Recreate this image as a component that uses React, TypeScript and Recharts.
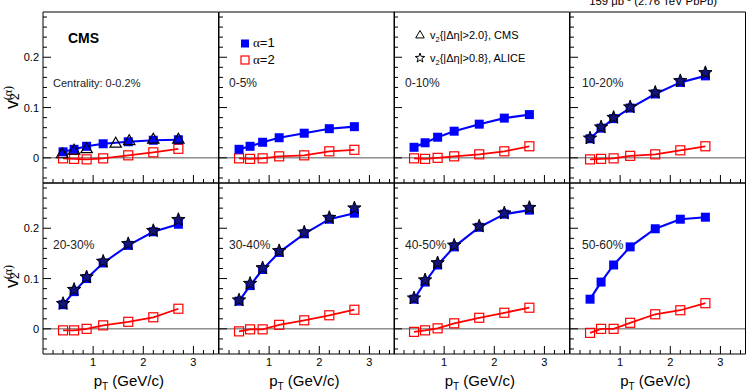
import React from 'react';
import { ComposedChart, Line, Scatter, XAxis, YAxis, ReferenceLine } from 'recharts';

// pT bin centres (GeV/c)
const PT = [0.4, 0.62, 0.87, 1.2, 1.7, 2.2, 2.7];

const CENTRALITY = ['Centrality: 0-0.2%', '0-5%', '0-10%', '10-20%', '20-30%', '30-40%', '40-50%', '50-60%'];

// v2^(alpha=1), one row per centrality class
const V2_ALPHA1 = [
  [0.012, 0.017, 0.023, 0.028, 0.032, 0.035, 0.036],
  [0.017, 0.023, 0.031, 0.040, 0.049, 0.058, 0.062],
  [0.021, 0.030, 0.041, 0.053, 0.067, 0.079, 0.086],
  [0.038, 0.059, 0.078, 0.099, 0.127, 0.150, 0.163],
  [0.048, 0.074, 0.100, 0.131, 0.166, 0.193, 0.208],
  [0.055, 0.086, 0.118, 0.152, 0.189, 0.218, 0.230],
  [0.059, 0.093, 0.127, 0.163, 0.202, 0.228, 0.236],
  [0.059, 0.093, 0.127, 0.163, 0.199, 0.218, 0.222],
];

// v2^(alpha=2)
const V2_ALPHA2 = [
  [-0.001, -0.002, -0.003, -0.001, 0.005, 0.011, 0.018],
  [-0.001, -0.002, -0.001, 0.003, 0.005, 0.013, 0.016],
  [-0.001, -0.002, 0.000, 0.003, 0.007, 0.013, 0.023],
  [-0.003, -0.002, -0.001, 0.004, 0.007, 0.015, 0.023],
  [-0.003, -0.003, 0.000, 0.007, 0.014, 0.023, 0.040],
  [-0.005, -0.001, -0.001, 0.008, 0.017, 0.027, 0.038],
  [-0.006, -0.003, 0.001, 0.011, 0.022, 0.032, 0.042],
  [-0.008, 0.000, 0.000, 0.012, 0.029, 0.037, 0.051],
];

// ALICE v2{|deta|>0.8}, panels 10-20% .. 40-50%
const ALICE_PANELS = [3, 4, 5, 6];
const ALICE_V2 = [
  [0.039, 0.061, 0.080, 0.101, 0.130, 0.153, 0.169],
  [0.050, 0.078, 0.103, 0.134, 0.169, 0.195, 0.217],
  [0.057, 0.090, 0.121, 0.155, 0.192, 0.221, 0.240],
  [0.061, 0.097, 0.131, 0.166, 0.204, 0.230, 0.241],
];

// CMS v2{|deta|>2.0}, 0-0.2% only
const CMS_PT = [0.38, 0.62, 0.87, 1.45, 1.72, 2.2, 2.7];
const CMS_V2 = [0.008, 0.015, 0.018, 0.029, 0.034, 0.037, 0.037];

const X_MAJOR = [1, 2, 3];
const Y_MAJOR = [0, 0.1, 0.2];
const X_TICKS = Array.from({ length: 17 }, (_, i) => Math.round((i + 1) * 2) / 10);
const Y_TICKS = Array.from({ length: 17 }, (_, i) => Math.round((i - 2) * 2) / 100);

const X_DOMAIN = [0, 3.5];
const Y_DOMAIN = [-0.05, 0.29];

const LEFT = 43;
const TOP = 12;
const PW = 175.5;
const PH = 171;
const FONT = "'Liberation Sans', Arial, Helvetica, sans-serif";

const starPath = (cx: number, cy: number, R: number, r: number) => {
  let d = '';
  for (let k = 0; k < 10; k++) {
    const a = -Math.PI / 2 + (k * Math.PI) / 5;
    const rad = k % 2 ? r : R;
    d += (k ? 'L' : 'M') + (cx + rad * Math.cos(a)).toFixed(2) + ',' + (cy + rad * Math.sin(a)).toFixed(2);
  }
  return d + 'Z';
};

const triPath = (cx: number, cy: number, s: number) =>
  `M${cx},${cy - s}L${cx + s * 0.95},${cy + s * 0.65}L${cx - s * 0.95},${cy + s * 0.65}Z`;

const StarShape = (p: any) => (
  <path d={starPath(p.cx, p.cy, 7, 2.9)} fill="#14147a" stroke="#000" strokeWidth={1} />
);
const TriShape = (p: any) => (
  <path d={triPath(p.cx, p.cy, 6)} fill="none" stroke="#000" strokeWidth={1.2} />
);
const BlueSquare = (p: any) => (
  <rect key={p.key} x={p.cx - 4.5} y={p.cy - 4.5} width={9} height={9} fill="#0000ff" />
);
const RedSquare = (p: any) => (
  <rect key={p.key} x={p.cx - 4.5} y={p.cy - 4.5} width={9} height={9} fill="none" stroke="#ff0000" strokeWidth={1.2} />
);

const fmt = (v: number) => (v === 0 ? '0' : String(v));

// ticks drawn inward, ROOT style
const makeTick = (side: string, labels: boolean) => (p: any) => {
  const v = p.payload.value;
  const major = side === 'bottom' || side === 'top' ? X_MAJOR.includes(v) : Y_MAJOR.includes(v);
  const len = major ? 8 : 4;
  const { x, y } = p;
  if (side === 'bottom')
    return (
      <g>
        <line x1={x} x2={x} y1={y} y2={y - len} stroke="#000" />
        {major && labels && (
          <text x={x} y={y + 12} textAnchor="middle" fontSize={11} fontFamily={FONT} fill="#000">{fmt(v)}</text>
        )}
      </g>
    );
  if (side === 'top') return <line x1={x} x2={x} y1={y} y2={y + len} stroke="#000" />;
  if (side === 'left')
    return (
      <g>
        <line x1={x} x2={x + len} y1={y} y2={y} stroke="#000" />
        {major && labels && (
          <text x={x - 4} y={y + 4} textAnchor="end" fontSize={11} fontFamily={FONT} fill="#000">{fmt(v)}</text>
        )}
      </g>
    );
  return <line x1={x} x2={x - len} y1={y} y2={y} stroke="#000" />;
};

const Panel = ({ idx }: { idx: number }) => {
  const row = Math.floor(idx / 4);
  const col = idx % 4;
  const a1 = PT.map((pt, i) => ({ pt, v: V2_ALPHA1[idx][i] }));
  const a2 = PT.map((pt, i) => ({ pt, v: V2_ALPHA2[idx][i] }));
  const ai = ALICE_PANELS.indexOf(idx);
  const alice = ai >= 0 ? PT.map((pt, i) => ({ pt, v: ALICE_V2[ai][i] })) : null;
  const cms = idx === 0 ? CMS_PT.map((pt, i) => ({ pt, v: CMS_V2[i] })) : null;
  const axisLine = { stroke: '#000', strokeWidth: 1 };
  // every axis box is 1px thick so it still renders; the chart is 2px larger to compensate
  return (
    <div style={{ position: 'absolute', left: LEFT + col * PW - 1, top: TOP + row * PH - 1 }}>
      <ComposedChart width={PW + 2} height={PH + 2} margin={{ top: 0, right: 0, bottom: 0, left: 0 }}>
        <XAxis xAxisId={0} type="number" dataKey="pt" domain={X_DOMAIN} ticks={X_TICKS} interval={0}
          height={1} tickSize={0} tickMargin={0} tickLine={false} axisLine={axisLine}
          tick={makeTick('bottom', row === 1)} />
        <XAxis xAxisId="t" orientation="top" type="number" dataKey="pt" domain={X_DOMAIN} ticks={X_TICKS} interval={0}
          height={1} tickSize={0} tickMargin={0} tickLine={false} axisLine={axisLine}
          tick={makeTick('top', false)} />
        <YAxis yAxisId={0} type="number" domain={Y_DOMAIN} ticks={Y_TICKS} interval={0}
          width={1} tickSize={0} tickMargin={0} tickLine={false} axisLine={axisLine}
          tick={makeTick('left', col === 0)} />
        <YAxis yAxisId="r" orientation="right" type="number" domain={Y_DOMAIN} ticks={Y_TICKS} interval={0}
          width={1} tickSize={0} tickMargin={0} tickLine={false} axisLine={axisLine}
          tick={makeTick('right', false)} />
        <ReferenceLine y={0} stroke="#555" strokeWidth={1} />
        <Line data={a2} dataKey="v" stroke="#ff0000" strokeWidth={1.8} dot={RedSquare} isAnimationActive={false} />
        <Line data={a1} dataKey="v" stroke="#0000ff" strokeWidth={2.1} dot={BlueSquare} isAnimationActive={false} />
        {cms && <Scatter data={cms} dataKey="v" shape={TriShape} isAnimationActive={false} />}
        {alice && <Scatter data={alice} dataKey="v" shape={StarShape} isAnimationActive={false} />}
      </ComposedChart>
    </div>
  );
};

const App = () => {
  const labelPos = [53, 229, 405, 582];
  return (
    <div style={{ position: 'absolute', left: 0, top: 0, width: 749, height: 392, background: '#fff', fontFamily: FONT, overflow: 'hidden' }}>
      <style>{`.recharts-surface{overflow:visible}`}</style>
      {CENTRALITY.map((_, i) => <Panel key={i} idx={i} />)}
      <svg width={749} height={392} style={{ position: 'absolute', left: 0, top: 0, pointerEvents: 'none' }} fontFamily={FONT}>
        <text x={717} y={5} textAnchor="end" fontSize={11.3}>
          159 μb<tspan dy={-4} fontSize={8}>-1</tspan><tspan dy={4}> (2.76 TeV PbPb)</tspan>
        </text>
        <text x={68} y={43} fontSize={14} fontWeight="bold">CMS</text>
        {CENTRALITY.map((c, i) => (
          <text key={c} x={labelPos[i % 4]} y={i < 4 ? 87 : 249} fontSize={i === 0 ? 11 : 12} fill="#222">{c}</text>
        ))}
        {/* legend */}
        <rect x={241} y={39.5} width={8} height={8} fill="#0000ff" />
        <text x={253} y={47} fontSize={13}><tspan fontFamily="'Liberation Serif', serif">α</tspan>=1</text>
        <rect x={241} y={56} width={8} height={8} fill="none" stroke="#ff0000" strokeWidth={1.2} />
        <text x={253} y={64} fontSize={13}><tspan fontFamily="'Liberation Serif', serif">α</tspan>=2</text>
        <path d={triPath(420, 35, 4.5)} fill="none" stroke="#000" strokeWidth={1} />
        <text x={430} y={39} fontSize={11}>
          v<tspan dy={3} fontSize={7.5}>2</tspan><tspan dy={-3}>{'{|Δη|>2.0}, CMS'}</tspan>
        </text>
        <path d={starPath(420, 58, 5, 2)} fill="none" stroke="#000" strokeWidth={1} />
        <text x={430} y={62} fontSize={11}>
          v<tspan dy={3} fontSize={7.5}>2</tspan><tspan dy={-3}>{'{|Δη|>0.8}, ALICE'}</tspan>
        </text>
        {/* axis titles */}
        {[109, 288].map((y) => (
          <text key={y} transform={`translate(18,${y}) rotate(-90)`} fontSize={18}>
            v<tspan dy={1} fontSize={12}>2</tspan><tspan dx={-7} dy={-7} fontSize={12} fontFamily="'Liberation Serif', serif">(α)</tspan>
          </text>
        ))}
        {[0, 1, 2, 3].map((c) => (
          <text key={c} x={LEFT + c * PW + 121} y={386} textAnchor="end" fontSize={15}>
            p<tspan dy={4} fontSize={10}>T</tspan><tspan dy={-4}> (GeV/c)</tspan>
          </text>
        ))}
      </svg>
    </div>
  );
};

export default App;
